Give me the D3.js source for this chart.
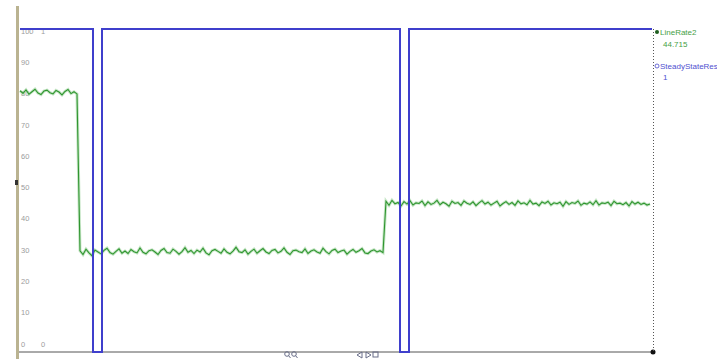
<!DOCTYPE html>
<html>
<head>
<meta charset="utf-8">
<script src="https://cdn.jsdelivr.net/npm/d3@7/dist/d3.min.js"></script>
<style>
  body { margin: 0; background: #fff; }
  svg { display: block; font-family: 'Liberation Sans', Arial, sans-serif; }
</style>
</head>
<body>
<div id="chart"></div>
<script>
// LineRate2, one sample every 3 s
var lineRate = [
  80.9, 80.1, 81.2, 79.8, 80.6, 81.4, 80.2, 79.7, 80.8, 81.1,
  80.3, 79.9, 81.0, 80.5, 79.6, 80.7, 81.3, 80.0, 80.6, 79.9,
  29.8, 28.6, 30.3, 29.1, 28.2, 30.0, 29.4, 28.8, 29.9, 30.6,
  29.2, 28.7, 29.6, 30.4, 29.0, 29.7, 28.9, 30.2, 29.5, 29.1,
  30.7, 29.3, 28.8, 29.8, 30.1, 29.4, 28.6, 29.9, 30.5, 29.2,
  29.0, 30.3, 29.6, 28.7, 29.5, 30.8, 29.3, 29.9, 28.9, 30.0,
  29.4, 30.6, 29.1, 28.5, 29.8, 30.2, 29.6, 29.0, 30.4, 29.3,
  28.8, 29.7, 30.9, 29.5, 29.2, 30.1, 28.7, 29.6, 30.3, 29.0,
  29.8, 30.5, 29.4, 28.9, 29.9, 30.2, 29.1, 29.6, 30.7, 29.3,
  28.6, 29.8, 30.0, 29.5, 29.2, 30.4, 28.9, 29.7, 30.1, 29.4,
  29.0, 30.6, 29.5, 28.8, 29.9, 30.3, 29.2, 29.7, 30.0, 28.7,
  29.6, 30.2, 29.3, 29.8, 30.5, 29.1, 28.9, 29.7, 30.1, 29.4,
  29.8, 29.2,
  45.6, 44.3, 45.9, 44.8, 45.2, 44.1, 45.5, 44.7, 45.8, 44.4,
  45.1, 44.9, 45.7, 44.2, 45.4, 44.6, 45.0, 45.9, 44.5, 45.3,
  44.8, 44.0, 45.6, 44.9, 45.2, 44.3, 45.7, 45.0, 44.6, 45.4,
  44.2, 45.1, 45.8, 44.7, 45.3, 44.4, 45.0, 45.6, 44.1, 44.9,
  45.5, 44.6, 45.2, 44.3, 45.7, 44.8, 45.1, 44.5, 45.9, 44.7,
  45.0, 44.2, 45.4, 44.9, 45.6, 44.4, 45.1, 44.8, 45.3, 44.0,
  45.5, 44.6, 45.2, 44.9, 45.7, 44.3, 45.0, 44.7, 45.4, 44.5,
  45.8, 44.4, 45.1, 44.9, 45.3, 44.2, 45.6, 44.8, 45.0, 44.5,
  45.2, 44.1, 45.5, 44.7, 45.3, 44.6, 45.0, 44.4, 44.715
];
var sampleStep = 3;

// SteadyStateResult, step changes (time, value)
var steadyTimes  = [0, 73, 82, 380, 389, 632];
var steadyValues = [1, 0, 1, 0, 1, 1];

var rateTicks   = [0, 10, 20, 30, 40, 50, 60, 70, 80, 90, 100];
var steadyTicks = [0, 1];

var legendNames  = ['LineRate2', 'SteadyStateResult'];
var legendValues = ['44.715', '1'];

var width = 717, height = 359;

var svg = d3.select('#chart')
  .append('svg')
  .attr('width', width)
  .attr('height', height);

var x = d3.scaleLinear().domain([0, 632]).range([20, 652]);
var y = d3.scaleLinear().domain([0, 100]).range([344, 31]);
var y2 = d3.scaleLinear().domain([0, 1]).range([352, 29]);

// left bar
svg.append('rect')
  .attr('x', 16).attr('y', 6)
  .attr('width', 3).attr('height', 353)
  .attr('fill', '#bab391');
svg.append('rect')
  .attr('x', 15).attr('y', 180)
  .attr('width', 3).attr('height', 5)
  .attr('fill', '#333');

// tick labels
svg.selectAll('.rlab')
  .data(rateTicks)
  .enter().append('text')
  .attr('class', 'rlab')
  .attr('x', 21)
  .attr('y', function(d) { return y(d); })
  .attr('dy', '0.35em')
  .attr('font-size', 7.5)
  .attr('fill', '#9c9c9c')
  .text(function(d) { return d; });

svg.selectAll('.slab')
  .data(steadyTicks)
  .enter().append('text')
  .attr('class', 'slab')
  .attr('x', 41)
  .attr('y', function(d) { return d ? y(100) : y(0); })
  .attr('dy', '0.35em')
  .attr('font-size', 7.5)
  .attr('fill', '#9c9c9c')
  .text(function(d) { return d; });

// bottom axis + right dotted edge
svg.append('line')
  .attr('x1', 19).attr('x2', 653)
  .attr('y1', 352).attr('y2', 352)
  .attr('stroke', '#555').attr('stroke-width', 1);
svg.append('circle')
  .attr('cx', 653).attr('cy', 352).attr('r', 2.5)
  .attr('fill', '#111');
svg.append('line')
  .attr('x1', 653.5).attr('x2', 653.5)
  .attr('y1', 29).attr('y2', 352)
  .attr('stroke', '#555').attr('stroke-width', 1)
  .attr('stroke-dasharray', '1,2');

// LineRate2 trace (soft halo + core line)
var rateLine = d3.line()
  .x(function(d, i) { return x(i * sampleStep); })
  .y(function(d) { return y(d); });

svg.append('path')
  .datum(lineRate)
  .attr('d', rateLine)
  .attr('fill', 'none')
  .attr('stroke', '#9ed49e')
  .attr('stroke-opacity', 0.6)
  .attr('stroke-width', 3);

svg.append('path')
  .datum(lineRate)
  .attr('d', rateLine)
  .attr('fill', 'none')
  .attr('stroke', '#2f952f')
  .attr('stroke-width', 1.1);

// SteadyStateResult trace
var steadyLine = d3.line()
  .curve(d3.curveStepAfter)
  .x(function(d) { return x(d); })
  .y(function(d, i) { return y2(steadyValues[i]); });

svg.append('path')
  .datum(steadyTimes)
  .attr('d', steadyLine)
  .attr('fill', 'none')
  .attr('stroke', '#3f3fcc')
  .attr('stroke-width', 2);

// legend
var legend = svg.append('g').attr('transform', 'translate(656,0)');
legend.append('circle')
  .attr('cx', 1).attr('cy', 32).attr('r', 2)
  .attr('fill', '#1d5e1d');
legend.append('circle')
  .attr('cx', 1).attr('cy', 66).attr('r', 2)
  .attr('fill', '#fff').attr('stroke', '#4a4acc').attr('stroke-width', 0.8);

legend.selectAll('.lname')
  .data(legendNames)
  .enter().append('text')
  .attr('class', 'lname')
  .attr('x', 4)
  .attr('y', function(d, i) { return i ? 66 : 32; })
  .attr('dy', '0.35em')
  .attr('font-size', 8)
  .attr('fill', function(d, i) { return i ? '#5050d0' : '#46a046'; })
  .text(function(d) { return d; });

legend.selectAll('.lval')
  .data(legendValues)
  .enter().append('text')
  .attr('class', 'lval')
  .attr('x', 7)
  .attr('y', function(d, i) { return i ? 77 : 44; })
  .attr('dy', '0.35em')
  .attr('font-size', 8)
  .attr('fill', function(d, i) { return i ? '#5050d0' : '#46a046'; })
  .text(function(d) { return d; });

// little toolbar icons under the axis
var icons = svg.append('g')
  .attr('fill', 'none')
  .attr('stroke', '#6a6f8a')
  .attr('stroke-width', 1);
[287, 294].forEach(function(cx) {
  icons.append('circle').attr('cx', cx).attr('cy', 354).attr('r', 2.3);
  icons.append('line')
    .attr('x1', cx + 1.5).attr('y1', 355.5)
    .attr('x2', cx + 3.5).attr('y2', 358);
});
icons.append('path').attr('d', 'M357,355 L362,352 L362,358 Z');
icons.append('path').attr('d', 'M371,355 L366,352 L366,358 Z');
icons.append('rect').attr('x', 373).attr('y', 352).attr('width', 5).attr('height', 5);
</script>
</body>
</html>
